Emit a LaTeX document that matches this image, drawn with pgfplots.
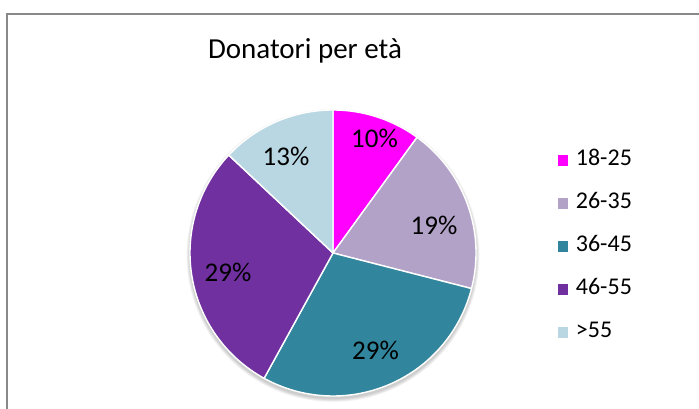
\documentclass[border=0pt]{standalone}
\usepackage{pgfplots}
\usepackage{pgfplotstable}
\pgfplotsset{compat=1.18}
\usepackage{fontspec}
\setmainfont{Carlito}
\definecolor{cA}{HTML}{FF00FF}
\definecolor{cB}{HTML}{B3A2C7}
\definecolor{cC}{HTML}{31859C}
\definecolor{cD}{HTML}{7030A0}
\definecolor{cE}{HTML}{B9D7E3}
\definecolor{frm}{HTML}{898989}

\pgfplotstableread{
pct col lab
10 cA 18-25
19 cB 26-35
29 cC 36-45
29 cD 46-55
13 cE >55
}\piedata

\begin{document}
\begin{tikzpicture}
\useasboundingbox (0,0) rectangle (699pt,409pt);
\draw[frm, line width=1.6pt] (6.7pt,-5pt) -- (6.7pt,395.2pt) -- (710pt,395.2pt);
\begin{axis}[
  x=1pt, y=1pt, xmin=0, xmax=699, ymin=0, ymax=409,
  hide axis, clip=false, anchor=south west, at={(0pt,0pt)},
  legend style={at={(axis cs:554.5,261.5)}, anchor=north west, draw=none, fill=none,
    font=\fontsize{24}{28}\selectfont,
    nodes={text height=16pt, text depth=0pt, inner sep=0pt},
    row sep=27pt, cells={anchor=west}},
  legend image code/.code={\fill[#1,draw=none] (0pt,-8pt) rectangle (10.5pt,2.5pt);
     \path (17.5pt,0pt);},
]
% soft shadow
\pgfplotsinvokeforeach{0,...,5}{
  \fill[black, opacity=0.035] (axis cs:333,153.5) circle [radius={143.5pt+#1*0.6pt}];
}
\xdef\cum{0}
\pgfplotsinvokeforeach{0,...,4}{
  \pgfplotstablegetelem{#1}{pct}\of\piedata \global\let\p\pgfplotsretval
  \pgfplotstablegetelem{#1}{col}\of\piedata \global\let\c\pgfplotsretval
  \pgfplotstablegetelem{#1}{lab}\of\piedata \global\let\l\pgfplotsretval
  \pgfmathsetmacro\a{90-3.6*\cum}
  \pgfmathsetmacro\b{90-3.6*(\cum+\p)}
  \pgfmathsetmacro\newcum{\cum+\p}
  \xdef\cum{\newcum}
  \edef\temp{\noexpand\addplot[fill=\c, draw=white, line width=1.4pt, line join=round,
     domain=\b:\a, samples=120, variable=\noexpand\t]
     ({333+143*cos(\noexpand\t)},{156+143*sin(\noexpand\t)}) -- (axis cs:333,156) -- cycle;
     \noexpand\addlegendentry{\l}}
  \temp
}
\node[anchor=base, font=\fontsize{29}{33}\selectfont] at (axis cs:305,350) {Donatori per età};
\begin{scope}[every node/.style={anchor=base, font=\fontsize{27}{31}\selectfont}]
\node at (axis cs:374.5,261) {10\%};
\node at (axis cs:434,174) {19\%};
\node at (axis cs:375.5,49) {29\%};
\node at (axis cs:228,127) {29\%};
\node at (axis cs:286,243) {13\%};
\end{scope}
\end{axis}
\end{tikzpicture}
\end{document}
